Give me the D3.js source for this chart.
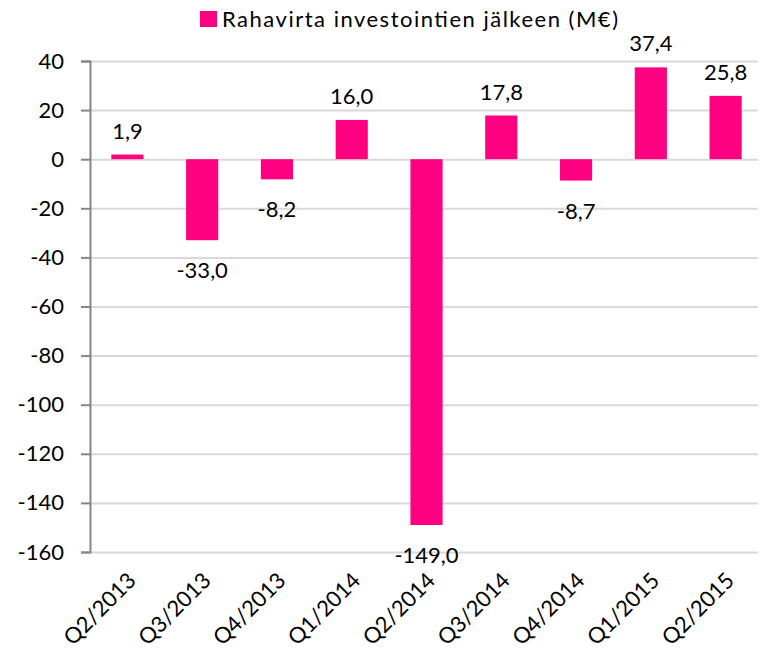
<!DOCTYPE html>
<html>
<head>
<meta charset="utf-8">
<script src="https://cdn.jsdelivr.net/npm/d3@7"></script>
<style>
  body { margin: 0; background: #fff; }
  svg { display: block; font-family: Lato, "Open Sans", sans-serif; }
  .gridlines line { stroke: #d9d9d9; stroke-width: 2; }
  .gridlines .domain { display: none; }
</style>
</head>
<body>
<div id="chart"></div>
<script>
const quarters = ['Q2/2013', 'Q3/2013', 'Q4/2013', 'Q1/2014', 'Q2/2014', 'Q3/2014', 'Q4/2014', 'Q1/2015', 'Q2/2015'];
const cashFlow = [1.9, -33.0, -8.2, 16.0, -149.0, 17.8, -8.7, 37.4, 25.8];
const yTicks = [40, 20, 0, -20, -40, -60, -80, -100, -120, -140, -160];
const seriesName = 'Rahavirta investointien jälkeen (M€)';

const width = 760;
const height = 654;
const pink = '#ff0080';

const data = quarters.map((q, i) => ({ quarter: q, value: cashFlow[i] }));

const svg = d3.select('#chart')
  .append('svg')
  .attr('width', width)
  .attr('height', height);

const xScale = d3.scaleBand()
  .domain(quarters)
  .range([90, 763])
  .paddingInner(0.57)
  .paddingOuter(0.285);

const yScale = d3.scaleLinear().domain([-160, 40]).range([552, 61]);

// gridlines
svg.append('g')
  .attr('class', 'gridlines')
  .attr('transform', 'translate(90, 0)')
  .call(d3.axisLeft(yScale).tickValues(yTicks).tickFormat('').tickSize(-668));

// y axis
const yAxis = svg.append('g')
  .attr('transform', 'translate(90, 0)')
  .call(d3.axisLeft(yScale)
    .tickValues(yTicks)
    .tickSize(9)
    .tickPadding(17)
    .tickFormat((d) => String(d)));
yAxis.select('.domain').attr('stroke', '#868686').attr('stroke-width', 2);
yAxis.selectAll('.tick line').attr('stroke', '#868686').attr('stroke-width', 2);
yAxis.selectAll('.tick text')
  .attr('font-size', 22)
  .attr('font-family', 'Lato, "Open Sans", sans-serif')
  .attr('fill', '#000');

// bars
svg.append('g')
  .selectAll('rect')
  .data(data)
  .join('rect')
  .attr('x', (d) => xScale(d.quarter))
  .attr('width', xScale.bandwidth())
  .attr('y', (d) => yScale(Math.max(0, d.value)))
  .attr('height', (d) => Math.abs(yScale(d.value) - yScale(0)))
  .attr('fill', pink);

// value labels
svg.append('g')
  .selectAll('text')
  .data(data)
  .join('text')
  .attr('x', (d) => xScale(d.quarter) + xScale.bandwidth() / 2)
  .attr('y', (d) => d.value >= 0 ? yScale(d.value) - 16 : yScale(d.value) + 38)
  .attr('text-anchor', 'middle')
  .attr('font-size', 22)
  .attr('fill', '#000')
  .text((d) => d3.format('.1f')(d.value).replace('.', ',').replace('−', '-'));

// x labels
svg.append('g')
  .selectAll('text')
  .data(quarters)
  .join('text')
  .attr('transform', (d) => `translate(${xScale(d) + xScale.bandwidth() / 2 + 10}, 582) rotate(-45)`)
  .attr('text-anchor', 'end')
  .attr('font-size', 22)
  .attr('fill', '#000')
  .text((d) => d);

// legend
const legend = svg.append('g').attr('transform', 'translate(200, 11)');
legend.append('rect')
  .attr('width', 17)
  .attr('height', 16)
  .attr('fill', pink);
legend.append('text')
  .attr('x', 22)
  .attr('y', 16)
  .attr('font-size', 22)
  .attr('fill', '#000')
  .attr('textLength', 396)
  .attr('lengthAdjust', 'spacing')
  .text(seriesName);
</script>
</body>
</html>
